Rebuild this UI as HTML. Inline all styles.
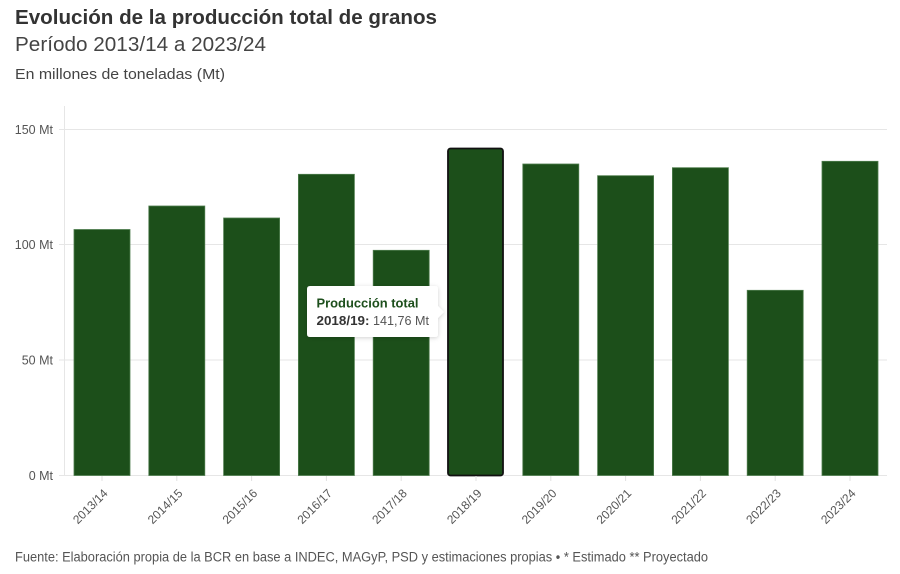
<!DOCTYPE html>
<html>
<head>
<meta charset="utf-8">
<style>
  html, body { margin: 0; padding: 0; background: #ffffff; }
  body { width: 900px; height: 574px; overflow: hidden; }
  svg { display: block; font-family: "Liberation Sans", sans-serif; }
</style>
</head>
<body>
<svg width="900" height="574" viewBox="0 0 900 574" xmlns="http://www.w3.org/2000/svg">
  <defs>
    <filter id="sh" x="-20%" y="-30%" width="140%" height="160%">
      <feDropShadow dx="0" dy="1" stdDeviation="2" flood-color="#000" flood-opacity="0.18"/>
    </filter>
  </defs>

  <!-- Header -->
  <text x="15" y="24" font-size="20" font-weight="bold" fill="#333" textLength="422" lengthAdjust="spacingAndGlyphs">Evolución de la producción total de granos</text>
  <text x="15" y="51" font-size="20" fill="#444" textLength="251" lengthAdjust="spacingAndGlyphs">Período 2013/14 a 2023/24</text>
  <text x="15" y="79" font-size="15" fill="#444" textLength="210" lengthAdjust="spacingAndGlyphs">En millones de toneladas (Mt)</text>

  <!-- Gridlines -->
  <g stroke="#e6e6e6" stroke-width="1">
    <line x1="59" y1="129.5" x2="887" y2="129.5"/>
    <line x1="59" y1="244.5" x2="887" y2="244.5"/>
    <line x1="59" y1="360" x2="887" y2="360"/>
    <line x1="59" y1="475.5" x2="887" y2="475.5"/>
    <line x1="64.5" y1="106" x2="64.5" y2="476"/>
  </g>

  <!-- Y labels -->
  <g font-size="12.5" fill="#555" text-anchor="end">
    <text x="53" y="134">150 Mt</text>
    <text x="53" y="249">100 Mt</text>
    <text x="53" y="364.5">50 Mt</text>
    <text x="53" y="480">0 Mt</text>
  </g>

  <!-- Bars -->
  <g fill="#1c4f1a" stroke="#4f7d4e" stroke-width="0.8">
    <rect x="74" y="229.5" width="56" height="246"/>
    <rect x="148.8" y="206" width="56" height="269.5"/>
    <rect x="223.6" y="218" width="56" height="257.5"/>
    <rect x="298.4" y="174.3" width="56" height="301.2"/>
    <rect x="373.2" y="250.3" width="56" height="225.2"/>
    <rect x="522.8" y="164" width="56" height="311.5"/>
    <rect x="597.6" y="175.7" width="56" height="299.8"/>
    <rect x="672.4" y="167.7" width="56" height="307.8"/>
    <rect x="747.2" y="290.3" width="56" height="185.2"/>
    <rect x="822" y="161.3" width="56" height="314.2"/>
  </g>
  <!-- highlighted bar -->
  <rect x="448" y="148.5" width="55" height="327" rx="2.5" ry="2.5" fill="#1c4f1a" stroke="#111" stroke-width="1.8"/>

  <!-- X ticks -->
  <g stroke="#e0e0e0" stroke-width="1">
    <line x1="102" y1="476" x2="102" y2="481"/>
    <line x1="176.8" y1="476" x2="176.8" y2="481"/>
    <line x1="251.6" y1="476" x2="251.6" y2="481"/>
    <line x1="326.4" y1="476" x2="326.4" y2="481"/>
    <line x1="401.2" y1="476" x2="401.2" y2="481"/>
    <line x1="476" y1="476" x2="476" y2="481"/>
    <line x1="550.8" y1="476" x2="550.8" y2="481"/>
    <line x1="625.6" y1="476" x2="625.6" y2="481"/>
    <line x1="700.4" y1="476" x2="700.4" y2="481"/>
    <line x1="775.2" y1="476" x2="775.2" y2="481"/>
    <line x1="850" y1="476" x2="850" y2="481"/>
  </g>

  <!-- X labels -->
  <g font-size="12" fill="#555" text-anchor="end">
    <text transform="translate(108.5,494) rotate(-45)">2013/14</text>
    <text transform="translate(183.3,494) rotate(-45)">2014/15</text>
    <text transform="translate(258.1,494) rotate(-45)">2015/16</text>
    <text transform="translate(332.9,494) rotate(-45)">2016/17</text>
    <text transform="translate(407.7,494) rotate(-45)">2017/18</text>
    <text transform="translate(482.5,494) rotate(-45)">2018/19</text>
    <text transform="translate(557.3,494) rotate(-45)">2019/20</text>
    <text transform="translate(632.1,494) rotate(-45)">2020/21</text>
    <text transform="translate(706.9,494) rotate(-45)">2021/22</text>
    <text transform="translate(781.7,494) rotate(-45)">2022/23</text>
    <text transform="translate(856.5,494) rotate(-45)">2023/24</text>
  </g>

  <!-- Tooltip -->
  <g filter="url(#sh)">
    <path d="M310,286 H435 Q438,286 438,289 V306 L444,312 L438,318 V334 Q438,337 435,337 H310 Q307,337 307,334 V289 Q307,286 310,286 Z" fill="#ffffff"/>
  </g>
  <text x="316.5" y="307.3" font-size="12.5" font-weight="bold" fill="#1d4f1c" textLength="102" lengthAdjust="spacingAndGlyphs">Producción total</text>
  <text x="316.5" y="325" font-size="12.5" font-weight="bold" fill="#333" textLength="53" lengthAdjust="spacingAndGlyphs">2018/19:</text>
  <text x="373" y="325" font-size="12.5" fill="#555" textLength="56" lengthAdjust="spacingAndGlyphs">141,76 Mt</text>

  <!-- Footer -->
  <text x="15" y="561.5" font-size="13.5" fill="#555" textLength="693" lengthAdjust="spacingAndGlyphs">Fuente: Elaboración propia de la BCR en base a INDEC, MAGyP, PSD y estimaciones propias • * Estimado ** Proyectado</text>
</svg>
</body>
</html>
